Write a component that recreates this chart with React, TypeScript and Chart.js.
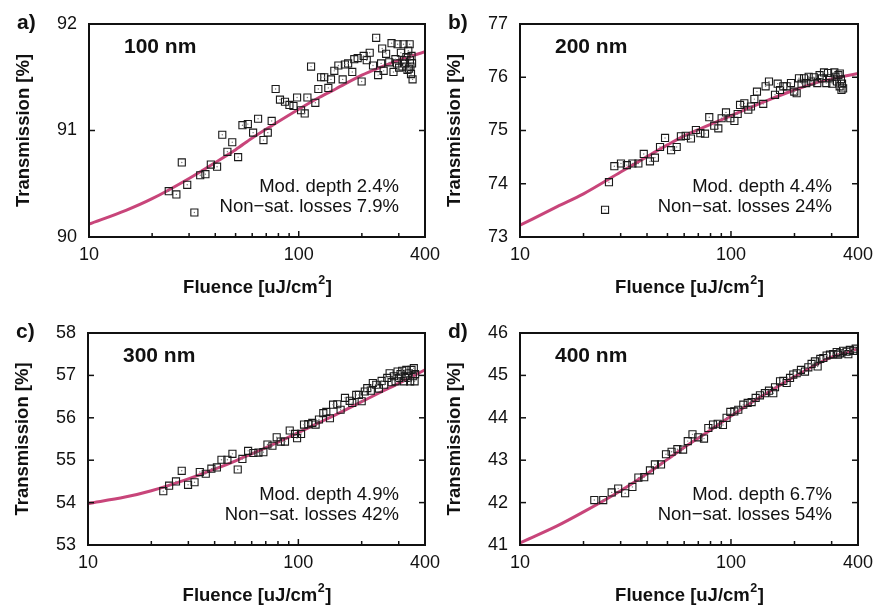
import React, { useEffect, useRef } from 'react';
import { Chart, registerables } from 'chart.js';

Chart.register(...registerables);

// ---------- data ----------
const fitFluence = [10, 15, 20, 30, 40, 50, 60, 75, 100, 125, 150, 200, 250, 300, 400];
const fitA = [90.12, 90.25, 90.36, 90.55, 90.7, 90.82, 90.93, 91.05, 91.2, 91.31, 91.39, 91.52, 91.6, 91.66, 91.74];
const fitB = [73.22, 73.57, 73.81, 74.22, 74.51, 74.73, 74.9, 75.07, 75.28, 75.44, 75.57, 75.76, 75.89, 75.97, 76.07];
const fitC = [53.98, 54.13, 54.28, 54.56, 54.79, 54.98, 55.15, 55.36, 55.65, 55.88, 56.07, 56.38, 56.62, 56.81, 57.13];
const fitD = [41.05, 41.45, 41.78, 42.28, 42.68, 43.02, 43.3, 43.62, 44.04, 44.36, 44.6, 44.97, 45.24, 45.43, 45.63];

const fluenceA = [24.0, 26.1, 27.7, 29.4, 31.8, 33.9, 35.9, 38.1, 40.8, 43.2, 45.7, 48.2, 51.4, 53.9, 57.2, 60.6, 64.0, 67.9, 71.2, 74.3, 77.6, 81.4, 86.0, 90.3, 94.4, 98.2, 102.6, 106.8, 110, 114.5, 120, 124, 127.8, 132.4, 138.4, 142.5, 147.8, 154.5, 162, 166, 172, 180, 184, 191, 199.5, 204, 211, 218, 226, 234, 239, 247, 250, 254, 261, 270, 277, 283, 289, 294, 296, 301, 307, 312, 316, 318, 321, 326, 330, 333, 336, 338, 339, 341, 343, 345, 347, 349];
const transA = [90.43, 90.4, 90.7, 90.49, 90.23, 90.58, 90.59, 90.68, 90.66, 90.96, 90.8, 90.89, 90.75, 91.05, 91.06, 90.98, 91.11, 90.91, 90.98, 91.09, 91.39, 91.29, 91.27, 91.24, 91.23, 91.31, 91.19, 91.16, 91.31, 91.6, 91.26, 91.39, 91.5, 91.5, 91.4, 91.48, 91.56, 91.61, 91.48, 91.62, 91.63, 91.55, 91.67, 91.68, 91.46, 91.7, 91.66, 91.73, 91.61, 91.87, 91.52, 91.63, 91.77, 91.56, 91.72, 91.64, 91.82, 91.55, 91.67, 91.63, 91.81, 91.59, 91.73, 91.6, 91.81, 91.66, 91.63, 91.69, 91.57, 91.75, 91.58, 91.81, 91.66, 91.6, 91.53, 91.7, 91.63, 91.48];

const fluenceB = [25.3, 26.4, 28.0, 30.1, 32.1, 34.1, 36.4, 38.6, 41.3, 43.6, 46.1, 48.7, 52.0, 55.3, 57.9, 61.0, 64.6, 68.2, 71.6, 75.3, 78.9, 83.3, 87.1, 90.3, 94.7, 99.3, 103.8, 107.6, 110.4, 115.7, 120.8, 124.4, 129.1, 132.8, 142.2, 145.9, 151.4, 161.7, 166.5, 170.8, 177, 183.6, 192.5, 199.5, 204.8, 210, 216, 222, 227.5, 233.5, 240, 247, 256.5, 263, 270, 276, 283, 288.5, 294.6, 302, 309, 313, 318, 323, 327.5, 328, 332, 334, 336, 340];
const transB = [73.51, 74.03, 74.33, 74.38, 74.35, 74.38, 74.38, 74.56, 74.42, 74.49, 74.69, 74.86, 74.63, 74.69, 74.89, 74.9, 74.85, 75.01, 74.95, 74.94, 75.25, 75.09, 75.04, 75.23, 75.34, 75.23, 75.18, 75.31, 75.48, 75.51, 75.39, 75.45, 75.59, 75.73, 75.5, 75.83, 75.92, 75.67, 75.88, 75.76, 75.83, 75.83, 75.89, 75.73, 75.7, 75.98, 75.88, 75.98, 75.89, 76.01, 75.92, 76.0, 75.89, 76.04, 75.98, 76.09, 75.89, 76.08, 75.98, 75.88, 76.09, 76.01, 75.92, 76.04, 75.83, 76.07, 75.96, 75.76, 75.88, 75.79];

const fluenceC = [22.8, 24.3, 26.2, 27.9, 29.9, 32.1, 34.0, 36.3, 38.6, 41.0, 43.1, 46.0, 48.6, 51.5, 54.2, 57.7, 61.1, 64.6, 68.2, 71.3, 75.3, 78.9, 82.4, 86.4, 91.0, 96.4, 98.6, 103, 106.4, 111.5, 116.5, 120.8, 125.3, 131.4, 135.8, 141.3, 146.2, 153.2, 158.8, 166.6, 175.4, 180.4, 188.4, 194, 200, 207, 212.6, 221, 226, 234.4, 241.5, 248.8, 256, 264.6, 271.6, 277.5, 284.7, 289.8, 296.3, 300.5, 306, 311.7, 317.5, 321, 326, 330.5, 335, 340, 345, 350, 354, 357, 359];
const transC = [54.27, 54.4, 54.5, 54.75, 54.42, 54.48, 54.72, 54.68, 54.8, 54.83, 55.01, 55.01, 55.15, 54.78, 55.03, 55.22, 55.17, 55.18, 55.19, 55.37, 55.34, 55.54, 55.44, 55.44, 55.7, 55.62, 55.52, 55.62, 55.84, 55.85, 55.88, 55.84, 55.96, 56.11, 56.14, 55.99, 56.31, 56.32, 56.19, 56.47, 56.4, 56.35, 56.54, 56.54, 56.39, 56.62, 56.7, 56.64, 56.82, 56.78, 56.69, 56.87, 56.78, 56.94, 57.05, 56.84, 56.98, 56.86, 57.09, 56.94, 57.03, 57.11, 56.86, 56.98, 57.13, 56.94, 57.05, 56.86, 57.13, 56.98, 57.17, 56.86, 57.03];

const fluenceD = [22.5, 24.8, 27.2, 29.2, 31.5, 34.1, 36.4, 38.8, 41.3, 43.6, 46.6, 49.2, 52.3, 55.7, 59.3, 62.4, 65.7, 70.0, 74.5, 78.1, 82.2, 86.5, 91.6, 95.3, 99.3, 103.7, 108.3, 114.4, 120, 125.3, 130.9, 137.2, 144.8, 151.4, 158.7, 161.7, 170.8, 177, 183.6, 190.5, 197.4, 204.8, 214.6, 224.3, 232.6, 241, 250, 257.5, 265, 274, 284, 294.5, 305, 317, 322, 328.5, 340, 353, 360, 366, 380, 390];
const transD = [42.06, 42.06, 42.24, 42.33, 42.22, 42.37, 42.59, 42.6, 42.76, 42.9, 42.9, 43.14, 43.2, 43.26, 43.25, 43.45, 43.61, 43.54, 43.51, 43.76, 43.84, 43.86, 43.83, 44.0, 44.14, 44.15, 44.19, 44.31, 44.35, 44.37, 44.47, 44.53, 44.58, 44.64, 44.58, 44.72, 44.86, 44.87, 44.82, 44.94, 45.02, 45.05, 45.13, 45.09, 45.19, 45.27, 45.33, 45.21, 45.39, 45.41, 45.47, 45.49, 45.5, 45.55, 45.49, 45.52, 45.58, 45.56, 45.5, 45.6, 45.58, 45.63];

const xTickValues = [10, 20, 30, 40, 50, 60, 70, 80, 90, 100, 200, 300, 400];
const xLabelled = [10, 100, 400];
const yRangeA = [90, 92];
const yRangeB = [73, 77];
const yRangeC = [53, 58];
const yRangeD = [41, 46];

const yTitle = 'Transmission [%]';
const xTitleMain = 'Fluence [uJ/cm';
const xTitleSup = '2';
const xTitleEnd = ']';

const FF = 'Arial, "Liberation Sans", sans-serif';
const CURVE = '#C8457A';
const INK = '#111111';

type PanelProps = {
  letter: string;
  label: string;
  depth: string;
  losses: string;
  yRange: number[];
  fit: number[];
  fx: number[];
  fy: number[];
  left: number;
  top: number;
  width: number;
  height: number;
  padTop: number;
  padRight: number;
  yAxisW: number;
  xAxisH: number;
};

function Panel(p: PanelProps) {
  const ref = useRef<HTMLCanvasElement | null>(null);
  useEffect(() => {
    const canvas = ref.current;
    if (!canvas) return;
    const points = p.fx.map((x, i) => ({ x, y: p.fy[i] }));
    const curve = fitFluence.map((x, i) => ({ x, y: p.fit[i] }));

    const decor = {
      id: 'decor',
      afterDraw(chart: any) {
        const { ctx, chartArea: ca, scales } = chart;
        const xs = scales.x;
        const ys = scales.y;
        ctx.save();
        ctx.strokeStyle = INK;
        ctx.lineWidth = 1.5;
        const seg = (x1: number, y1: number, x2: number, y2: number) => {
          ctx.beginPath();
          ctx.moveTo(x1, y1);
          ctx.lineTo(x2, y2);
          ctx.stroke();
        };
        for (const t of ys.ticks) {
          const y = ys.getPixelForValue(t.value);
          if (y <= ca.top + 1 || y >= ca.bottom - 1) continue;
          seg(ca.left, y, ca.left + 6, y);
          seg(ca.right, y, ca.right - 6, y);
        }
        for (const t of xs.ticks) {
          const x = xs.getPixelForValue(t.value);
          if (x <= ca.left + 1 || x >= ca.right - 1) continue;
          const len = t.value === 100 ? 6 : 4;
          seg(x, ca.bottom, x, ca.bottom - len);
        }
        ctx.lineWidth = 2;
        ctx.strokeRect(ca.left, ca.top, ca.right - ca.left, ca.bottom - ca.top);

        ctx.fillStyle = INK;
        // panel letter
        ctx.font = `bold 21px ${FF}`;
        ctx.textAlign = 'left';
        ctx.textBaseline = 'alphabetic';
        ctx.fillText(p.letter, ca.left - 72, ca.top + 5);
        // sample label
        ctx.fillText(p.label, ca.left + 35, ca.top + 29);
        // annotation
        ctx.font = `18.5px ${FF}`;
        ctx.textAlign = 'right';
        ctx.fillText(p.depth, ca.right - 26, ca.bottom - 45.3);
        ctx.fillText(p.losses, ca.right - 26, ca.bottom - 24.7);
        // x title with superscript
        ctx.textAlign = 'left';
        const bigFont = `bold 18.5px ${FF}`;
        const supFont = `bold 12.5px ${FF}`;
        ctx.font = bigFont;
        const w1 = ctx.measureText(xTitleMain).width;
        const w3 = ctx.measureText(xTitleEnd).width;
        ctx.font = supFont;
        const w2 = ctx.measureText(xTitleSup).width;
        const cx = (ca.left + ca.right) / 2;
        const x0 = cx - (w1 + w2 + w3) / 2;
        const by = ca.bottom + 56;
        ctx.font = bigFont;
        ctx.fillText(xTitleMain, x0, by);
        ctx.font = supFont;
        ctx.fillText(xTitleSup, x0 + w1 + 0.5, by - 9.5);
        ctx.font = bigFont;
        ctx.fillText(xTitleEnd, x0 + w1 + w2 + 1, by);
        // y title
        ctx.save();
        ctx.translate(ca.left - 60.5, (ca.top + ca.bottom) / 2);
        ctx.rotate(-Math.PI / 2);
        ctx.textAlign = 'center';
        ctx.font = bigFont;
        ctx.fillText(yTitle, 0, 0);
        ctx.restore();
        ctx.restore();
      },
    };

    const chart = new Chart(canvas, {
      type: 'scatter',
      data: {
        datasets: [
          {
            type: 'line',
            data: curve,
            borderColor: CURVE,
            borderWidth: 3,
            pointRadius: 0,
            fill: false,
            cubicInterpolationMode: 'monotone',
            order: 3,
          } as any,
          {
            data: points,
            pointStyle: 'rect',
            pointRadius: 5,
            borderColor: '#1a1a1a',
            borderWidth: 1.1,
            backgroundColor: 'rgba(0,0,0,0)',
            order: 2,
          },
          {
            data: points,
            pointStyle: 'circle',
            pointRadius: 0.7,
            borderWidth: 0,
            backgroundColor: '#777777',
            order: 1,
          },
        ],
      },
      options: {
        responsive: false,
        animation: false,
        devicePixelRatio: 1,
        layout: { padding: { left: 0, right: p.padRight, top: p.padTop, bottom: 0 } },
        plugins: { legend: { display: false }, tooltip: { enabled: false } },
        scales: {
          x: {
            type: 'logarithmic',
            min: 10,
            max: 400,
            grid: { display: false, drawTicks: false },
            border: { display: false },
            afterBuildTicks: (s: any) => {
              s.ticks = xTickValues.map((v) => ({ value: v }));
            },
            afterFit: (s: any) => {
              s.height = p.xAxisH;
              s.paddingLeft = 0;
              s.paddingRight = 0;
              s.paddingTop = 0;
              s.paddingBottom = 0;
            },
            ticks: {
              autoSkip: false,
              maxRotation: 0,
              minRotation: 0,
              padding: 7,
              color: INK,
              font: { family: FF, size: 18 },
              callback: (v: any) => (xLabelled.includes(Number(v)) ? String(v) : ''),
            },
          },
          y: {
            type: 'linear',
            min: p.yRange[0],
            max: p.yRange[1],
            grid: { display: false, drawTicks: false },
            border: { display: false },
            afterFit: (s: any) => {
              s.width = p.yAxisW;
              s.paddingLeft = 0;
              s.paddingRight = 0;
              s.paddingTop = 0;
              s.paddingBottom = 0;
            },
            ticks: {
              stepSize: 1,
              padding: 12,
              color: INK,
              font: { family: FF, size: 18 },
              callback: (v: any) => String(v),
            },
          },
        },
      },
      plugins: [decor],
    } as any);
    return () => chart.destroy();
  }, []);

  return (
    <div style={{ position: 'absolute', left: p.left, top: p.top, width: p.width, height: p.height }}>
      <canvas ref={ref} width={p.width} height={p.height} style={{ width: p.width, height: p.height, display: 'block' }} />
    </div>
  );
}

export default function App() {
  return (
    <div style={{ position: 'absolute', left: 0, top: 0, width: 875, height: 607, background: '#ffffff', overflow: 'hidden' }}>
      <Panel letter="a)" label="100 nm" depth="Mod. depth 2.4%" losses="Non−sat. losses 7.9%" yRange={yRangeA} fit={fitA} fx={fluenceA} fy={transA}
        left={0} top={0} width={452} height={300} padTop={24} padRight={27} yAxisW={89} xAxisH={63} />
      <Panel letter="b)" label="200 nm" depth="Mod. depth 4.4%" losses="Non−sat. losses 24%" yRange={yRangeB} fit={fitB} fx={fluenceB} fy={transB}
        left={437} top={0} width={438} height={300} padTop={24} padRight={17} yAxisW={83} xAxisH={63} />
      <Panel letter="c)" label="300 nm" depth="Mod. depth 4.9%" losses="Non−sat. losses 42%" yRange={yRangeC} fit={fitC} fx={fluenceC} fy={transC}
        left={0} top={300} width={452} height={307} padTop={33} padRight={27} yAxisW={88} xAxisH={62} />
      <Panel letter="d)" label="400 nm" depth="Mod. depth 6.7%" losses="Non−sat. losses 54%" yRange={yRangeD} fit={fitD} fx={fluenceD} fy={transD}
        left={437} top={300} width={438} height={307} padTop={33} padRight={17} yAxisW={83} xAxisH={62} />
    </div>
  );
}
